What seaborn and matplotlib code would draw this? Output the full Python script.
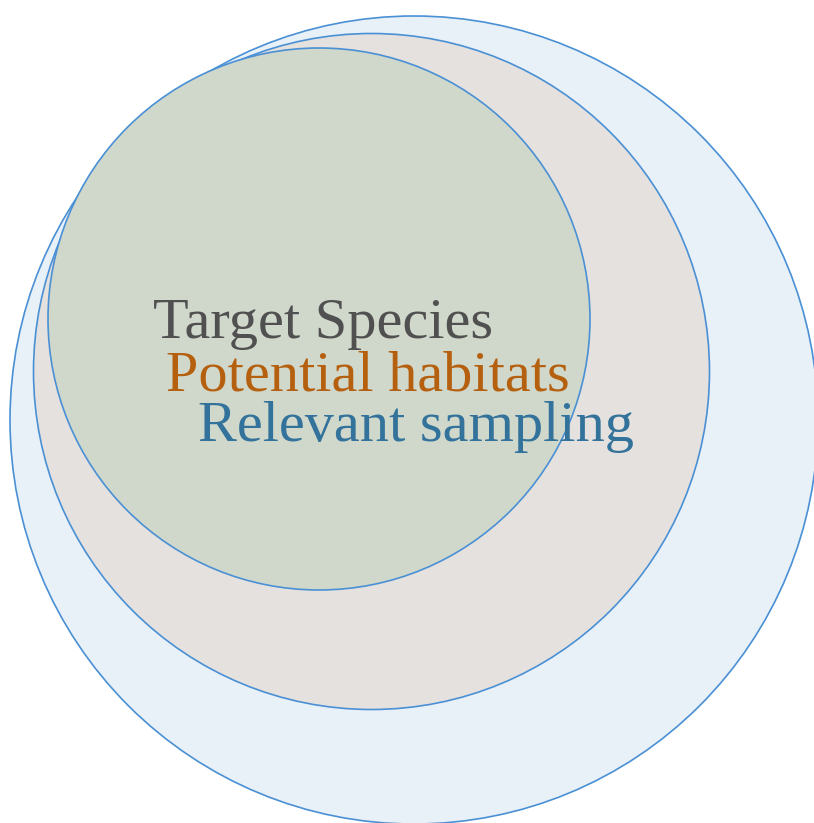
import matplotlib
matplotlib.use("Agg")
import matplotlib.pyplot as plt
import seaborn as sns
from matplotlib.patches import Circle

# circle layers, drawn outer to inner (pixel units of the 814x823 canvas)
layers = ["Relevant sampling", "Potential habitats", "Target Species"]
centers_x = [414, 371.5, 319]
centers_y = [420, 371.5, 319]
radii = [404, 338, 271]
fills = ["#e8f0f8", "#e5e1de", "#d0d8cc"]

# labels
label_text = ["Target Species", "Potential habitats", "Relevant sampling"]
label_x = [153, 166, 198]
label_y = [338, 390, 441]
label_colors = ["#505050", "#b5600f", "#33729a"]

sns.set_theme(style="white")
plt.rcParams['font.family'] = ['Liberation Serif', 'DejaVu Serif']

fig = plt.figure(figsize=(8.14, 8.23), dpi=100)
ax = fig.add_axes([0, 0, 1, 1])
ax.set_xlim(0, 814)
ax.set_ylim(823, 0)
ax.set_aspect("equal")
ax.axis("off")

for cx, cy, r, fc in zip(centers_x, centers_y, radii, fills):
    ax.add_patch(Circle((cx, cy), r, facecolor=fc, edgecolor="#4a90d4", linewidth=1.2))

for txt, x, y, c in zip(label_text, label_x, label_y, label_colors):
    ax.text(x, y, txt, color=c, fontsize=42, ha="left", va="baseline")

fig.savefig("out.png", dpi=100)
